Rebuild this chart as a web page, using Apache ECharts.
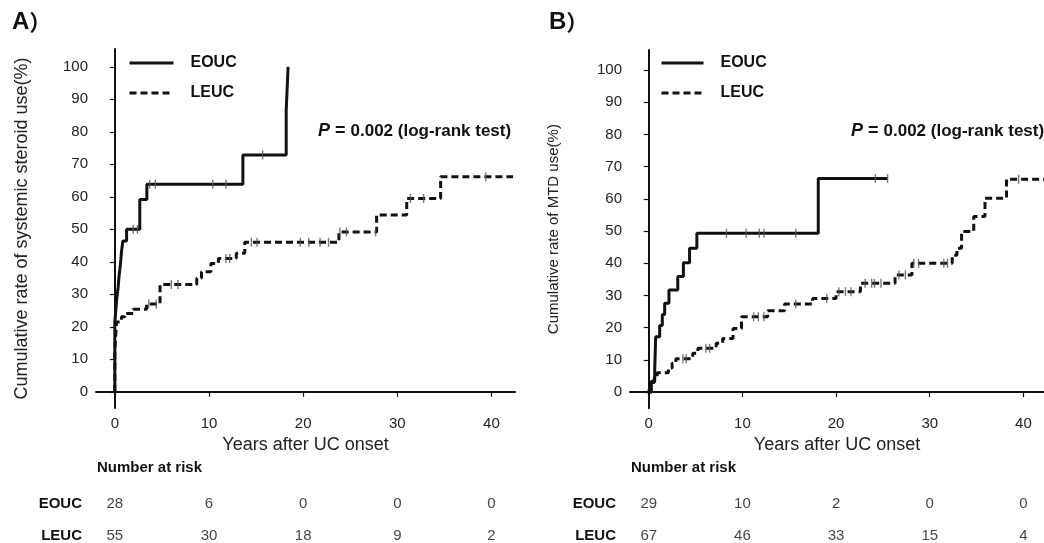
<!DOCTYPE html>
<html>
<head>
<meta charset="utf-8">
<script src="https://cdn.jsdelivr.net/npm/echarts@6/dist/echarts.min.js"></script>
<style>
html,body{margin:0;padding:0;background:#fff;}
#c{width:1044px;height:543px;}
</style>
</head>
<body>
<div id="c"></div>
<script>
// ---------- data ----------
const xTicks = [0, 10, 20, 30, 40];
const yTicks = [0, 10, 20, 30, 40, 50, 60, 70, 80, 90, 100];
const groups = ['EOUC', 'LEUC'];

// Panel A: systemic steroid use
const eoucA_t = [0, 0, 0.1, 0.2, 0.35, 0.45, 0.6, 0.7, 0.85, 1.25, 2.65, 3.4, 13.6, 18.2, 18.4];
const eoucA_s = [0, 21.4, 25, 28.6, 32.1, 35.7, 39.3, 42.9, 46.4, 50, 59.2, 63.9, 72.9, 86.4, 100];
const leucA_t = [0, 0, 0.18, 0.7, 1.06, 1.95, 3.37, 4.8, 8.7, 9.2, 10.2, 11.0, 12.9, 13.8, 23.8, 27.8, 31.0, 34.6, 42.3];
const leucA_s = [0, 12.7, 21.5, 23.1, 24.1, 25.4, 27.0, 33.0, 34.9, 36.9, 39.5, 41.0, 42.6, 46.0, 49.2, 54.4, 59.5, 66.2, 66.2];
const eoucA_cens_t = [1.95, 2.4, 3.7, 4.3, 10.4, 11.8, 15.7];
const eoucA_cens_s = [50, 50, 63.9, 63.9, 63.9, 63.9, 72.9];
const leucA_cens_t = [3.6, 4.4, 6.0, 6.7, 11.8, 12.2, 14.5, 15.1, 19.7, 20.6, 21.8, 22.7, 23.9, 24.6, 27.7, 31.4, 32.8, 39.4];
const leucA_cens_s = [27.0, 27.0, 33.0, 33.0, 41.0, 41.0, 46.0, 46.0, 46.0, 46.0, 46.0, 46.0, 49.2, 49.2, 49.2, 59.5, 59.5, 66.2];

// Panel B: MTD use
const eoucB_t = [0, 0.28, 0.64, 0.74, 1.17, 1.45, 1.7, 2.16, 3.1, 3.7, 4.36, 5.14, 18.1, 25.5];
const eoucB_s = [0, 3.4, 6.9, 17.2, 20.7, 24.1, 27.6, 31.7, 35.9, 40.2, 44.7, 49.3, 66.3, 66.3];
const leucB_t = [0, 0.1, 0.3, 0.6, 0.9, 2.1, 2.5, 2.9, 4.7, 5.25, 7.2, 7.9, 9.0, 9.9, 12.7, 14.5, 17.5, 20.0, 22.6, 26.3, 28.1, 32.4, 32.9, 33.4, 34.7, 35.9, 38.2, 42.5];
const leucB_s = [0, 1.5, 3.0, 4.5, 6.0, 7.5, 9.0, 10.4, 12.1, 13.6, 15.2, 16.7, 19.8, 23.4, 25.3, 27.4, 29.1, 31.2, 33.8, 36.4, 40.0, 42.5, 44.7, 49.9, 54.5, 60.2, 66.1, 66.1];
const eoucB_cens_t = [8.3, 10.4, 11.8, 12.3, 15.7, 24.2, 25.5];
const eoucB_cens_s = [49.3, 49.3, 49.3, 49.3, 49.3, 66.3, 66.3];
const leucB_cens_t = [3.65, 4.0, 6.1, 6.5, 11.2, 11.7, 12.3, 15.7, 19.0, 20.3, 21.0, 21.6, 23.1, 23.8, 24.1, 24.8, 26.7, 27.4, 28.3, 28.8, 31.5, 31.9, 39.5];
const leucB_cens_s = [10.4, 10.4, 13.6, 13.6, 23.4, 23.4, 23.4, 27.4, 29.1, 31.2, 31.2, 31.2, 33.8, 33.8, 33.8, 33.8, 36.4, 36.4, 40.0, 40.0, 40.0, 40.0, 66.1];

// Number at risk
const riskTimes = [0, 10, 20, 30, 40];
const riskA_EOUC = [28, 6, 0, 0, 0];
const riskA_LEUC = [55, 30, 18, 9, 2];
const riskB_EOUC = [29, 10, 2, 0, 0];
const riskB_LEUC = [67, 46, 33, 15, 4];

const yNameA = 'Cumulative rate of systemic steroid use(%)';
const yNameB = 'Cumulative rate of MTD use(%)';
const xName = 'Years after UC onset';

// ---------- helpers ----------
const FONT = 'Liberation Sans, Arial, Helvetica, sans-serif';
const INK = '#111';
const zip = (a, b) => a.map((v, i) => [v, b[i]]);

function plotAxes(grid, yMax, yName, yNameSize, yNameGap, xMax) {
  const axisLine = { show: true, lineStyle: { color: INK, width: 2 } };
  const x = {
    type: 'value', gridIndex: grid, min: -2, max: xMax,
    axisLine: axisLine, splitLine: { show: false },
    axisTick: { show: true, length: 5, lineStyle: { color: INK, width: 1.2 }, customValues: xTicks },
    axisLabel: { show: true, fontFamily: FONT, fontSize: 15, color: '#222', margin: 8, customValues: xTicks },
    name: xName, nameLocation: 'middle', nameGap: 21,
    nameTextStyle: { fontFamily: FONT, fontSize: 18, color: '#222' }
  };
  const y = {
    type: 'value', gridIndex: grid, min: -5, max: yMax,
    axisLine: axisLine, splitLine: { show: false },
    axisTick: { show: true, length: 5, lineStyle: { color: INK, width: 1.2 }, customValues: yTicks },
    axisLabel: { show: true, fontFamily: FONT, fontSize: 15, color: '#222', margin: 8, customValues: yTicks },
    name: yName, nameLocation: 'middle', nameGap: yNameGap,
    nameTextStyle: { fontFamily: FONT, fontSize: yNameSize, color: '#222' }
  };
  return [x, y];
}

function riskAxes(grid, xMax) {
  return [
    { type: 'value', gridIndex: grid, min: -2, max: xMax, show: false },
    { type: 'category', gridIndex: grid, data: groups, inverse: true, boundaryGap: false,
      axisLine: { show: false }, axisTick: { show: false }, splitLine: { show: false },
      axisLabel: { fontFamily: FONT, fontSize: 15, fontWeight: 'bold', color: INK, margin: 14 } }
  ];
}

function kmLine(name, idx, t, s, dashed) {
  return {
    type: 'line', name: name, xAxisIndex: idx, yAxisIndex: idx,
    data: zip(t, s), step: 'end', symbol: 'none', showSymbol: false,
    lineStyle: { color: INK, width: 3, type: dashed ? [7, 4] : 'solid' },
    itemStyle: { color: INK }, z: 3, animation: false
  };
}

function censor(idx, t, s) {
  return {
    type: 'scatter', name: 'censor', xAxisIndex: idx, yAxisIndex: idx,
    data: zip(t, s), symbol: 'rect', symbolSize: [1.4, 9],
    itemStyle: { color: '#556' }, z: 4, silent: true, animation: false
  };
}

function riskSeries(idx, a, b) {
  const data = [];
  riskTimes.forEach((t, i) => { data.push([t, groups[0], a[i]]); });
  riskTimes.forEach((t, i) => { data.push([t, groups[1], b[i]]); });
  return {
    type: 'scatter', name: 'risk', xAxisIndex: idx, yAxisIndex: idx,
    data: data, symbolSize: 1, itemStyle: { color: 'rgba(0,0,0,0)' }, silent: true, animation: false,
    label: { show: true, position: 'inside', formatter: p => String(p.value[2]),
             fontFamily: FONT, fontSize: 15, color: INK }
  };
}

const pRich = {
  i: { fontFamily: FONT, fontSize: 18, fontStyle: 'italic', color: INK },
  n: { fontFamily: FONT, fontSize: 18, color: INK },
  b: { fontFamily: FONT, fontSize: 17, fontWeight: 'bold', color: INK }
};
const panelRich = {
  a: { fontFamily: FONT, fontSize: 24, fontWeight: 'bold', color: INK },
  p: { fontFamily: 'Noto Sans CJK JP, sans-serif', fontSize: 22, color: INK }
};

const legendBase = {
  data: groups, orient: 'vertical', top: 55, itemWidth: 44, itemHeight: 16, itemGap: 14,
  padding: 0, selectedMode: false,
  itemStyle: { opacity: 0, borderWidth: 0 },
  lineStyle: { width: 3 },
  textStyle: { fontFamily: FONT, fontSize: 16, fontWeight: 'bold', color: INK, padding: [0, 0, 0, 12], lineHeight: 16 }
};

const axA = plotAxes(0, 105.5, yNameA, 18, 65, 42.5);
const axB = plotAxes(1, 106.2, yNameB, 15, 69, 42.2);
const rkA = riskAxes(2, 42.5);
const rkB = riskAxes(3, 42.2);

const option = {
  backgroundColor: '#fff',
  animation: false,
  grid: [
    { left: 96, top: 49, width: 419, height: 359 },
    { left: 630, top: 50, width: 415.5, height: 358.3 },
    { left: 96, top: 504, width: 419, height: 33 },
    { left: 630, top: 504, width: 415.5, height: 33 }
  ],
  xAxis: [axA[0], axB[0], rkA[0], rkB[0]],
  yAxis: [axA[1], axB[1], rkA[1], rkB[1]],
  legend: [
    Object.assign({}, legendBase, { left: 128 }),
    Object.assign({}, legendBase, { left: 660, itemWidth: 42 })
  ],
  title: [
    { text: '{a|A}{p|）}', left: 7, top: 5, textStyle: { rich: panelRich } },
    { text: '{a|B}{p|）}', left: 544, top: 5, textStyle: { rich: panelRich } },
    { text: '{i|P} {n|=} {b|0.002 (log-rank test)}', left: 313, top: 117, textStyle: { rich: pRich } },
    { text: '{i|P} {n|=} {b|0.002 (log-rank test)}', left: 846, top: 117, textStyle: { rich: pRich } },
    { text: 'Number at risk', left: 92, top: 455, textStyle: { fontFamily: FONT, fontSize: 15, fontWeight: 'bold', color: INK } },
    { text: 'Number at risk', left: 626, top: 455, textStyle: { fontFamily: FONT, fontSize: 15, fontWeight: 'bold', color: INK } }
  ],
  series: [
    kmLine('EOUC', 0, eoucA_t, eoucA_s, false),
    kmLine('LEUC', 0, leucA_t, leucA_s, true),
    censor(0, eoucA_cens_t, eoucA_cens_s),
    censor(0, leucA_cens_t, leucA_cens_s),
    kmLine('EOUC', 1, eoucB_t, eoucB_s, false),
    kmLine('LEUC', 1, leucB_t, leucB_s, true),
    censor(1, eoucB_cens_t, eoucB_cens_s),
    censor(1, leucB_cens_t, leucB_cens_s),
    riskSeries(2, riskA_EOUC, riskA_LEUC),
    riskSeries(3, riskB_EOUC, riskB_LEUC)
  ]
};

const chart = echarts.init(document.getElementById('c'), null, { renderer: 'canvas' });
chart.setOption(option);
</script>
</body>
</html>
